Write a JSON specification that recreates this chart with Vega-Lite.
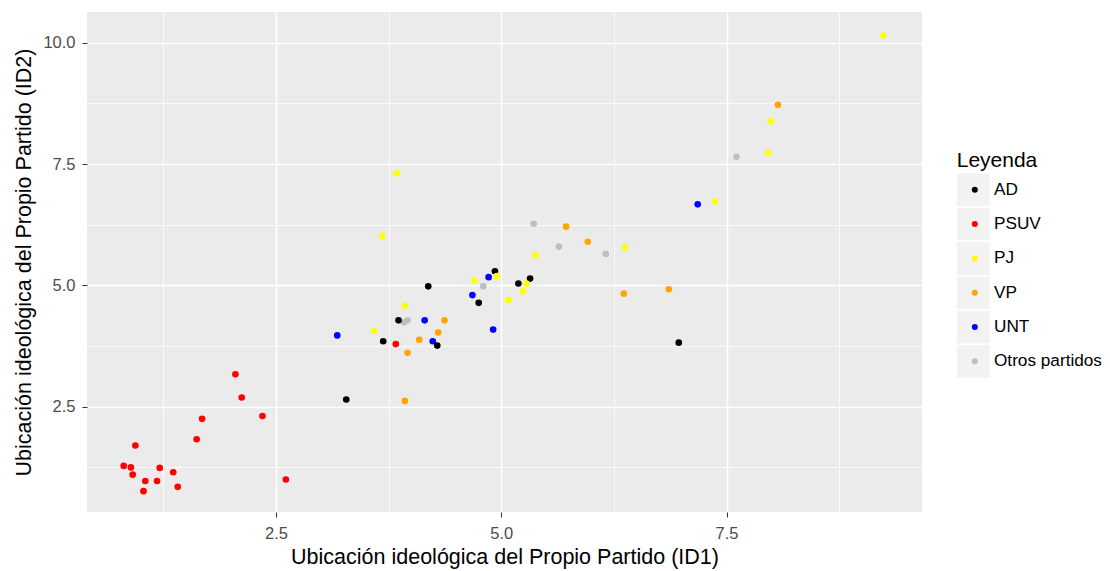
{
  "$schema": "https://vega.github.io/schema/vega-lite/v6.json",
  "width": 835,
  "height": 500,
  "autosize": {"type": "none"},
  "padding": {"left": 87, "top": 12, "right": 188, "bottom": 59},
  "background": "white",
  "config": {"view": {"fill": "#EBEBEB", "stroke": null}, "font": "Liberation Sans"},
  "data": {
    "values": [
      {"partido": "Otros partidos", "id1": 5.36, "id2": 6.27},
      {"partido": "Otros partidos", "id1": 5.64, "id2": 5.80},
      {"partido": "Otros partidos", "id1": 6.16, "id2": 5.65},
      {"partido": "Otros partidos", "id1": 4.80, "id2": 4.98},
      {"partido": "Otros partidos", "id1": 3.92, "id2": 4.24},
      {"partido": "Otros partidos", "id1": 3.96, "id2": 4.28},
      {"partido": "Otros partidos", "id1": 7.61, "id2": 7.65},
      {"partido": "UNT", "id1": 3.18, "id2": 3.97},
      {"partido": "UNT", "id1": 7.18, "id2": 6.67},
      {"partido": "UNT", "id1": 4.86, "id2": 5.17},
      {"partido": "UNT", "id1": 4.68, "id2": 4.80},
      {"partido": "UNT", "id1": 4.15, "id2": 4.28},
      {"partido": "UNT", "id1": 4.24, "id2": 3.85},
      {"partido": "UNT", "id1": 4.91, "id2": 4.09},
      {"partido": "AD", "id1": 4.93, "id2": 5.29},
      {"partido": "AD", "id1": 5.19, "id2": 5.04},
      {"partido": "AD", "id1": 5.32, "id2": 5.14},
      {"partido": "AD", "id1": 4.75, "id2": 4.64},
      {"partido": "AD", "id1": 4.19, "id2": 4.98},
      {"partido": "AD", "id1": 3.86, "id2": 4.28},
      {"partido": "AD", "id1": 4.29, "id2": 3.76},
      {"partido": "AD", "id1": 3.69, "id2": 3.85},
      {"partido": "AD", "id1": 3.28, "id2": 2.65},
      {"partido": "AD", "id1": 6.97, "id2": 3.82},
      {"partido": "PSUV", "id1": 0.81, "id2": 1.28},
      {"partido": "PSUV", "id1": 0.89, "id2": 1.25},
      {"partido": "PSUV", "id1": 0.94, "id2": 1.70},
      {"partido": "PSUV", "id1": 0.91, "id2": 1.10},
      {"partido": "PSUV", "id1": 1.05, "id2": 0.97},
      {"partido": "PSUV", "id1": 1.03, "id2": 0.76},
      {"partido": "PSUV", "id1": 1.18, "id2": 0.97},
      {"partido": "PSUV", "id1": 1.21, "id2": 1.24},
      {"partido": "PSUV", "id1": 1.36, "id2": 1.15},
      {"partido": "PSUV", "id1": 1.41, "id2": 0.85},
      {"partido": "PSUV", "id1": 1.62, "id2": 1.83},
      {"partido": "PSUV", "id1": 1.68, "id2": 2.25},
      {"partido": "PSUV", "id1": 2.05, "id2": 3.17},
      {"partido": "PSUV", "id1": 2.12, "id2": 2.69},
      {"partido": "PSUV", "id1": 2.35, "id2": 2.31},
      {"partido": "PSUV", "id1": 2.61, "id2": 1.00},
      {"partido": "PSUV", "id1": 3.83, "id2": 3.79},
      {"partido": "VP", "id1": 5.72, "id2": 6.21},
      {"partido": "VP", "id1": 5.96, "id2": 5.90},
      {"partido": "VP", "id1": 4.37, "id2": 4.28},
      {"partido": "VP", "id1": 4.30, "id2": 4.03},
      {"partido": "VP", "id1": 4.09, "id2": 3.88},
      {"partido": "VP", "id1": 3.96, "id2": 3.61},
      {"partido": "VP", "id1": 3.93, "id2": 2.62},
      {"partido": "VP", "id1": 6.36, "id2": 4.83},
      {"partido": "VP", "id1": 6.86, "id2": 4.92},
      {"partido": "VP", "id1": 8.07, "id2": 8.72},
      {"partido": "PJ", "id1": 3.68, "id2": 6.02},
      {"partido": "PJ", "id1": 3.84, "id2": 7.31},
      {"partido": "PJ", "id1": 6.37, "id2": 5.78},
      {"partido": "PJ", "id1": 5.38, "id2": 5.62},
      {"partido": "PJ", "id1": 4.95, "id2": 5.19},
      {"partido": "PJ", "id1": 4.70, "id2": 5.10},
      {"partido": "PJ", "id1": 5.28, "id2": 5.04},
      {"partido": "PJ", "id1": 5.24, "id2": 4.88},
      {"partido": "PJ", "id1": 5.08, "id2": 4.70},
      {"partido": "PJ", "id1": 3.93, "id2": 4.58},
      {"partido": "PJ", "id1": 3.59, "id2": 4.06},
      {"partido": "PJ", "id1": 9.24, "id2": 10.15},
      {"partido": "PJ", "id1": 7.99, "id2": 8.38},
      {"partido": "PJ", "id1": 7.96, "id2": 7.73},
      {"partido": "PJ", "id1": 7.37, "id2": 6.73}
    ]
  },
  "encoding": {
    "x": {
      "field": "id1",
      "type": "quantitative",
      "scale": {"domain": [0.403, 9.669], "nice": false, "zero": false},
      "axis": {
        "title": "Ubicación ideológica del Propio Partido (ID1)",
        "values": [1.25, 2.5, 3.75, 5, 6.25, 7.5, 8.75],
        "domain": false,
        "grid": true,
        "gridColor": "white",
        "gridOpacity": 1,
        "gridWidth": {"condition": {"test": "datum.value % 2.5 === 0", "value": 1.5}, "value": 0.75},
        "tickColor": "#333333",
        "tickOpacity": {"condition": {"test": "datum.value % 2.5 === 0", "value": 1}, "value": 0},
        "tickSize": 5,
        "tickWidth": 1,
        "labelExpr": "datum.value % 2.5 === 0 ? format(datum.value, '.1f') : ''",
        "labelFontSize": 16.5,
        "labelColor": "#4D4D4D",
        "labelPadding": 8,
        "labelFlush": false,
        "labelOverlap": false,
        "titleFontSize": 21.5,
        "titleFontWeight": "normal",
        "titleColor": "black",
        "titlePadding": 5
      }
    },
    "y": {
      "field": "id2",
      "type": "quantitative",
      "scale": {"domain": [0.331, 10.633], "nice": false, "zero": false},
      "axis": {
        "title": "Ubicación ideológica del Propio Partido (ID2)",
        "values": [1.25, 2.5, 3.75, 5, 6.25, 7.5, 8.75, 10],
        "domain": false,
        "grid": true,
        "gridColor": "white",
        "gridOpacity": 1,
        "gridWidth": {"condition": {"test": "datum.value % 2.5 === 0", "value": 1.5}, "value": 0.75},
        "tickColor": "#333333",
        "tickOpacity": {"condition": {"test": "datum.value % 2.5 === 0", "value": 1}, "value": 0},
        "tickSize": 5,
        "tickWidth": 1,
        "labelExpr": "datum.value % 2.5 === 0 ? format(datum.value, '.1f') : ''",
        "labelFontSize": 16.5,
        "labelColor": "#4D4D4D",
        "labelPadding": 7,
        "labelFlush": false,
        "labelOverlap": false,
        "titleFontSize": 21.5,
        "titleFontWeight": "normal",
        "titleColor": "black",
        "titlePadding": 7
      }
    }
  },
  "layer": [
    {
      "mark": {"type": "point", "filled": true, "opacity": 0, "color": "#F2F2F2"},
      "encoding": {
        "shape": {
          "field": "partido",
          "type": "nominal",
          "scale": {"range": ["square"]},
          "legend": {
            "title": "Leyenda",
            "orient": "none",
            "legendX": 869.7,
            "legendY": 138,
            "zindex": 1,
            "padding": 0,
            "titleFontSize": 21,
            "titleFontWeight": "normal",
            "titleColor": "black",
            "titlePadding": 2.3,
            "labelFontSize": 16.6,
            "labelExpr": "''",
            "symbolType": "square",
            "symbolSize": 1089,
            "symbolOpacity": 1,
            "symbolStrokeWidth": 0,
            "clipHeight": 33,
            "rowPadding": 1.3
          }
        }
      }
    },
    {
      "mark": {"type": "point", "filled": true, "size": 44, "opacity": 1},
      "encoding": {
        "color": {
          "field": "partido",
          "type": "nominal",
          "sort": null,
          "scale": {
            "domain": ["AD", "PSUV", "PJ", "VP", "UNT", "Otros partidos"],
            "range": ["#000000", "#FF0000", "#FFFF00", "#FFA500", "#0000FF", "#BEBEBE"]
          },
          "legend": {
            "title": null,
            "orient": "none",
            "legendX": 865.7,
            "legendY": 161.3,
            "zindex": 2,
            "padding": 0,
            "labelFontSize": 17.2,
            "labelColor": "black",
            "symbolType": "circle",
            "symbolSize": 36,
            "symbolOpacity": 1,
            "symbolStrokeWidth": 0,
            "symbolOffset": 13.5,
            "labelOffset": 10.6,
            "clipHeight": 33,
            "rowPadding": 1.3
          }
        }
      }
    }
  ]
}
